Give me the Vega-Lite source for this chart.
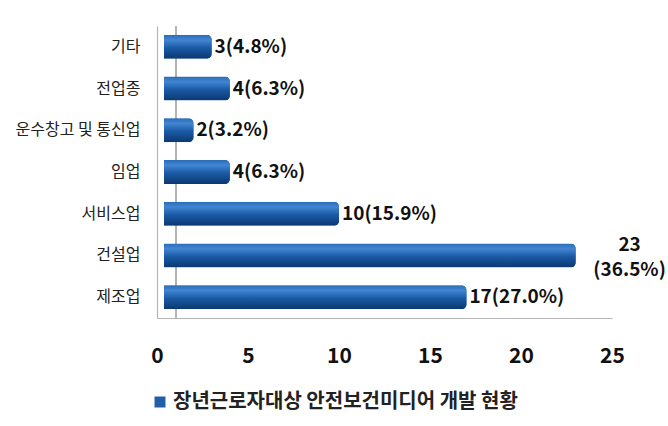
{
  "$schema": "https://vega.github.io/schema/vega-lite/v6.json",
  "width": 455,
  "height": 292,
  "autosize": {"type": "none"},
  "padding": {"left": 157, "top": 26, "right": 56, "bottom": 108},
  "background": "white",
  "config": {"view": {"stroke": null}, "font": "Noto Sans CJK KR"},
  "data": {
    "values": [
      {"cat": "기타", "n": 3, "label": "3(4.8%)", "series": "장년근로자대상 안전보건미디어 개발 현황"},
      {"cat": "전업종", "n": 4, "label": "4(6.3%)", "series": "장년근로자대상 안전보건미디어 개발 현황"},
      {"cat": "운수창고 및 통신업", "n": 2, "label": "2(3.2%)", "series": "장년근로자대상 안전보건미디어 개발 현황"},
      {"cat": "임업", "n": 4, "label": "4(6.3%)", "series": "장년근로자대상 안전보건미디어 개발 현황"},
      {"cat": "서비스업", "n": 10, "label": "10(15.9%)", "series": "장년근로자대상 안전보건미디어 개발 현황"},
      {"cat": "건설업", "n": 23, "label": "23\n(36.5%)", "series": "장년근로자대상 안전보건미디어 개발 현황"},
      {"cat": "제조업", "n": 17, "label": "17(27.0%)", "series": "장년근로자대상 안전보건미디어 개발 현황"}
    ]
  },
  "layer": [
    {
      "mark": {"type": "rule", "color": "#b5b5b5", "strokeWidth": 1.2},
      "encoding": {"x": {"datum": 1.05, "type": "quantitative", "scale": {"domain": [0, 25], "nice": false}}}
    },
    {
      "mark": {"type": "bar", "size": 24, "cornerRadius": 5, "xOffset": 7},
      "encoding": {
        "y": {"field": "cat", "type": "nominal", "sort": ["기타", "전업종", "운수창고 및 통신업", "임업", "서비스업", "건설업", "제조업"],
          "axis": {"title": null, "domain": true, "domainColor": "#b5b5b5", "domainWidth": 1.2, "ticks": false, "labelPadding": 17, "labelFontSize": 16, "labelColor": "#222", "labelFont": "Noto Sans CJK KR"}},
        "x": {"field": "n", "type": "quantitative", "scale": {"domain": [0, 25], "nice": false},
          "axis": {"title": null, "grid": false, "ticks": false, "domainColor": "#b5b5b5", "domainWidth": 1.2, "values": [0, 5, 10, 15, 20, 25], "labelPadding": 27, "labelFontSize": 21, "labelFontWeight": "bold", "labelColor": "#111", "labelFont": "Noto Sans CJK KR", "labelFlush": false}},
        "color": {"field": "series", "type": "nominal", "scale": {"range": ["#1f5fa8"]},
          "legend": {"title": null, "orient": "none", "legendX": -7, "legendY": 366, "padding": 0, "symbolType": "square", "symbolSize": 121, "symbolStrokeWidth": 0, "labelFontSize": 20, "labelFontWeight": "bold", "labelColor": "#222", "labelFont": "Noto Sans CJK KR", "labelOffset": 3, "labelLimit": 0}}
      }
    },
    {
      "mark": {"type": "bar", "size": 24, "cornerRadius": 5, "xOffset": 7,
        "fill": {"gradient": "linear", "x1": 0, "y1": 0, "x2": 0, "y2": 1,
          "stops": [{"offset": 0, "color": "#2a6cb8"}, {"offset": 0.22, "color": "#4285d2"}, {"offset": 0.55, "color": "#1a5aa5"}, {"offset": 1, "color": "#0b3870"}]}},
      "encoding": {
        "y": {"field": "cat", "type": "nominal", "sort": ["기타", "전업종", "운수창고 및 통신업", "임업", "서비스업", "건설업", "제조업"]},
        "x": {"field": "n", "type": "quantitative"}
      }
    },
    {
      "transform": [{"filter": "datum.cat != '건설업'"}],
      "mark": {"type": "text", "align": "left", "baseline": "middle", "dx": 3, "fontSize": 19, "fontWeight": "bold", "color": "#111", "font": "Noto Sans CJK KR"},
      "encoding": {
        "y": {"field": "cat", "type": "nominal", "sort": ["기타", "전업종", "운수창고 및 통신업", "임업", "서비스업", "건설업", "제조업"]},
        "x": {"field": "n", "type": "quantitative"},
        "text": {"field": "label", "type": "nominal"}
      }
    },
    {
      "transform": [{"filter": "datum.cat == '건설업'"}],
      "mark": {"type": "text", "align": "center", "baseline": "middle", "dx": 54, "dy": -10, "lineBreak": "\n", "lineHeight": 25, "fontSize": 19, "fontWeight": "bold", "color": "#111", "font": "Noto Sans CJK KR"},
      "encoding": {
        "y": {"field": "cat", "type": "nominal", "sort": ["기타", "전업종", "운수창고 및 통신업", "임업", "서비스업", "건설업", "제조업"]},
        "x": {"field": "n", "type": "quantitative"},
        "text": {"field": "label", "type": "nominal"}
      }
    }
  ]
}
